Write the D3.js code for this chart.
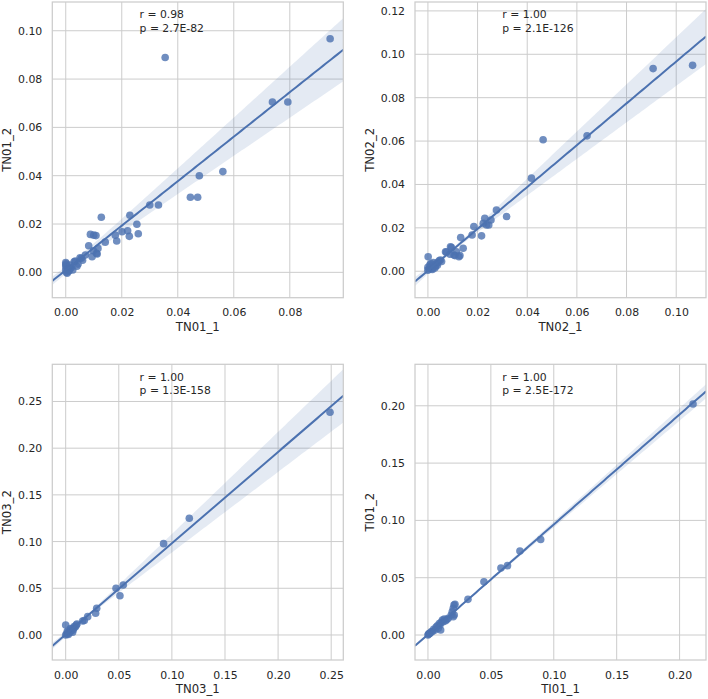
<!DOCTYPE html>
<html>
<head>
<meta charset="utf-8">
<script src="https://cdn.jsdelivr.net/npm/d3@7"></script>
<style>
  body { margin: 0; background: #fff; }
  text { font-family: "DejaVu Sans", sans-serif; fill: #262626; }
</style>
</head>
<body>
<div id="chart"></div>
<script>
// point values, [run 1, run 2]
const tn01 = [
  [0.0000, 0.0040], [0.0001, 0.0023], [0.0000, 0.0010], [0.0005, -0.0004], [0.0016, 0.0017],
  [0.0025, 0.0010], [0.0000, 0.0030], [0.0002, 0.0035], [0.0010, 0.0005], [0.0008, 0.0015],
  [0.0012, 0.0008], [0.0003, 0.0000], [0.0020, 0.0020], [0.0015, 0.0030], [0.0030, 0.0044],
  [0.0034, 0.0047], [0.0044, 0.0034], [0.0040, 0.0025], [0.0056, 0.0058], [0.0051, 0.0060],
  [0.0070, 0.0072], [0.0060, 0.0050], [0.0082, 0.0110], [0.0094, 0.0065], [0.0099, 0.0089],
  [0.0112, 0.0076], [0.0115, 0.0099], [0.0110, 0.0079], [0.0088, 0.0157], [0.0100, 0.0154],
  [0.0108, 0.0152], [0.0127, 0.0228], [0.0141, 0.0125], [0.0177, 0.0154], [0.0182, 0.0130],
  [0.0201, 0.0168], [0.0221, 0.0172], [0.0227, 0.0149], [0.0229, 0.0236], [0.0254, 0.0199],
  [0.0259, 0.0160], [0.0300, 0.0279], [0.0331, 0.0279], [0.0355, 0.0889], [0.0445, 0.0311],
  [0.0471, 0.0311], [0.0477, 0.0400], [0.0561, 0.0417], [0.0738, 0.0705], [0.0793, 0.0705],
  [0.0944, 0.0967]
];
const tn02 = [
  [0.0001, 0.0067], [0.0000, 0.0005], [0.0005, 0.0010], [0.0010, 0.0020], [0.0015, 0.0012],
  [0.0020, 0.0025], [0.0025, 0.0030], [0.0030, 0.0022], [0.0035, 0.0035], [0.0040, 0.0040],
  [0.0045, 0.0048], [0.0050, 0.0052], [0.0055, 0.0045], [0.0008, 0.0030], [0.0012, 0.0035],
  [0.0018, 0.0008], [0.0028, 0.0015], [0.0038, 0.0028], [0.0000, 0.0018], [0.0022, 0.0040],
  [0.0071, 0.0090], [0.0075, 0.0088], [0.0089, 0.0078], [0.0091, 0.0113], [0.0095, 0.0109],
  [0.0105, 0.0075], [0.0109, 0.0072], [0.0115, 0.0090], [0.0125, 0.0067], [0.0129, 0.0072],
  [0.0132, 0.0155], [0.0142, 0.0106], [0.0178, 0.0167], [0.0185, 0.0206], [0.0216, 0.0163],
  [0.0223, 0.0221], [0.0229, 0.0244], [0.0236, 0.0213], [0.0245, 0.0213], [0.0254, 0.0236],
  [0.0276, 0.0282], [0.0317, 0.0252], [0.0417, 0.0429], [0.0464, 0.0606], [0.0641, 0.0624],
  [0.0907, 0.0934], [0.1066, 0.0949]
];
const tn03 = [
  [0.0000, 0.0107], [0.0000, 0.0000], [0.0010, 0.0010], [0.0020, 0.0025], [0.0030, 0.0020],
  [0.0040, 0.0045], [0.0050, 0.0040], [0.0060, 0.0065], [0.0070, 0.0055], [0.0075, 0.0072],
  [0.0080, 0.0090], [0.0090, 0.0085], [0.0100, 0.0105], [0.0106, 0.0118], [0.0065, 0.0030],
  [0.0045, 0.0070], [0.0025, 0.0005], [0.0015, 0.0040], [0.0160, 0.0150], [0.0175, 0.0155],
  [0.0207, 0.0196], [0.0282, 0.0232], [0.0292, 0.0286], [0.0474, 0.0500], [0.0511, 0.0420],
  [0.0542, 0.0535], [0.0922, 0.0978], [0.1164, 0.1249], [0.2489, 0.2384]
];
const ti01 = [
  [0.0000, 0.0000], [0.0005, 0.0008], [0.0010, 0.0012], [0.0016, 0.0015], [0.0025, 0.0028],
  [0.0035, 0.0030], [0.0045, 0.0050], [0.0056, 0.0044], [0.0065, 0.0070], [0.0075, 0.0080],
  [0.0082, 0.0058], [0.0090, 0.0100], [0.0095, 0.0087], [0.0101, 0.0044], [0.0105, 0.0110],
  [0.0115, 0.0130], [0.0122, 0.0116], [0.0130, 0.0140], [0.0140, 0.0125], [0.0150, 0.0135],
  [0.0161, 0.0146], [0.0185, 0.0175], [0.0193, 0.0203], [0.0201, 0.0233], [0.0201, 0.0160],
  [0.0209, 0.0175], [0.0207, 0.0262], [0.0215, 0.0268], [0.0318, 0.0311], [0.0445, 0.0465],
  [0.0580, 0.0585], [0.0632, 0.0605], [0.0731, 0.0733], [0.0896, 0.0833], [0.2107, 0.2016]
];

// axis names and the r / p annotations
const names = ["TN01", "TN02", "TN03", "TI01"];
const rLabels = ["r = 0.98", "r = 1.00", "r = 1.00", "r = 1.00"];
const pLabels = ["p = 2.7E-82", "p = 2.1E-126", "p = 1.3E-158", "p = 2.5E-172"];

// tick values and axis limits
const xTicks = [
  [0, 0.02, 0.04, 0.06, 0.08],
  [0, 0.02, 0.04, 0.06, 0.08, 0.10],
  [0, 0.05, 0.10, 0.15, 0.20, 0.25],
  [0, 0.05, 0.10, 0.15, 0.20]
];
const yTicks = [
  [0, 0.02, 0.04, 0.06, 0.08, 0.10],
  [0, 0.02, 0.04, 0.06, 0.08, 0.10, 0.12],
  [0, 0.05, 0.10, 0.15, 0.20, 0.25],
  [0, 0.05, 0.10, 0.15, 0.20]
];
const xLims = [[-0.0048, 0.0991], [-0.0052, 0.1120], [-0.0126, 0.2614], [-0.0103, 0.2210]];
const yLims = [[-0.0105, 0.1119], [-0.0122, 0.1241], [-0.0268, 0.2898], [-0.0218, 0.2362]];
const datasets = [tn01, tn02, tn03, ti01];

// layout
const width = 708, height = 699;
const cellW = 291, cellH = 295.7;
const lefts = [52.3, 415, 52.3, 415];
const tops = [2, 2, 364.3, 364.3];
const blue = "#4c72b0";
const grey = "#cccccc";
const fmt = d3.format(".2f");

const svg = d3.select("#chart").append("svg")
  .attr("width", width)
  .attr("height", height);

// least squares fit plus a robust (HC3) band, close to seaborn's bootstrap band
function fit(pts) {
  const n = pts.length;
  const xbar = d3.mean(pts, d => d[0]);
  const ybar = d3.mean(pts, d => d[1]);
  let sxx = 0, sxy = 0;
  pts.forEach(d => { sxx += (d[0] - xbar) ** 2; sxy += (d[0] - xbar) * (d[1] - ybar); });
  const b = sxy / sxx;
  let m00 = 0, m01 = 0, m11 = 0;
  pts.forEach(d => {
    const xc = d[0] - xbar;
    const e = d[1] - (ybar + b * xc);
    const h = 1 / n + xc * xc / sxx;
    const w = e * e / ((1 - h) ** 2);
    m00 += w; m01 += w * xc; m11 += w * xc * xc;
  });
  return {
    yhat: x => ybar + b * (x - xbar),
    se: x => {
      const g = x - xbar;
      return Math.sqrt(m00 / (n * n) + 2 * g * m01 / (n * sxx) + g * g * m11 / (sxx * sxx));
    }
  };
}

datasets.forEach((pts, i) => {
  const left = lefts[i], top = tops[i];
  const x = d3.scaleLinear().domain(xLims[i]).range([left, left + cellW]);
  const y = d3.scaleLinear().domain(yLims[i]).range([top + cellH, top]);

  const g = svg.append("g");

  // grid
  g.selectAll(".gx").data(xTicks[i]).enter().append("line")
    .attr("x1", d => x(d)).attr("x2", d => x(d))
    .attr("y1", top).attr("y2", top + cellH)
    .attr("stroke", grey).attr("stroke-width", 1);
  g.selectAll(".gy").data(yTicks[i]).enter().append("line")
    .attr("x1", left).attr("x2", left + cellW)
    .attr("y1", d => y(d)).attr("y2", d => y(d))
    .attr("stroke", grey).attr("stroke-width", 1);

  // tick labels
  const xAxis = g.append("g")
    .attr("transform", `translate(0,${top + cellH})`)
    .call(d3.axisBottom(x).tickValues(xTicks[i]).tickFormat(fmt).tickSize(0).tickPadding(11));
  const yAxis = g.append("g")
    .attr("transform", `translate(${left},0)`)
    .call(d3.axisLeft(y).tickValues(yTicks[i]).tickFormat(fmt).tickSize(0).tickPadding(10));
  [xAxis, yAxis].forEach(a => {
    a.select(".domain").remove();
    a.selectAll("text").attr("font-size", "10.9px").style("font-family", "DejaVu Sans").attr("fill", "#262626");
  });

  // clip to the axes box
  const clipId = "clip" + i;
  svg.append("clipPath").attr("id", clipId)
    .append("rect").attr("x", left).attr("y", top).attr("width", cellW).attr("height", cellH);
  const plot = g.append("g").attr("clip-path", `url(#${clipId})`);

  // scatter
  plot.selectAll("circle").data(pts).enter().append("circle")
    .attr("cx", d => x(d[0]))
    .attr("cy", d => y(d[1]))
    .attr("r", 3.8)
    .attr("fill", blue)
    .attr("fill-opacity", 0.8);

  // regression line and band over the full x range
  const f = fit(pts);
  const grid = d3.range(101).map(k => xLims[i][0] + (xLims[i][1] - xLims[i][0]) * k / 100);
  const band = d3.area()
    .x(d => x(d))
    .y0(d => y(f.yhat(d) - 1.96 * f.se(d)))
    .y1(d => y(f.yhat(d) + 1.96 * f.se(d)));
  plot.append("path").attr("d", band(grid))
    .attr("fill", blue).attr("fill-opacity", 0.15);
  plot.append("path").attr("d", d3.line().x(d => x(d)).y(d => y(f.yhat(d)))(grid))
    .attr("fill", "none").attr("stroke", blue).attr("stroke-width", 2);

  // spines
  g.append("rect")
    .attr("x", left).attr("y", top).attr("width", cellW).attr("height", cellH)
    .attr("fill", "none").attr("stroke", grey).attr("stroke-width", 1.25);

  // axis labels
  g.append("text")
    .attr("x", left + cellW / 2).attr("y", top + cellH + 33)
    .attr("text-anchor", "middle").attr("font-size", "11.7px")
    .text(names[i] + "_1");
  g.append("text")
    .attr("transform", `translate(${left - 41.2},${top + cellH / 2}) rotate(-90)`)
    .attr("text-anchor", "middle").attr("font-size", "11.7px")
    .text(names[i] + "_2");

  // r and p annotation
  g.append("text").attr("x", left + 0.3 * cellW).attr("y", top + 16.3)
    .attr("font-size", "10.8px").text(rLabels[i]);
  g.append("text").attr("x", left + 0.3 * cellW).attr("y", top + 29.7)
    .attr("font-size", "10.8px").text(pLabels[i]);
});
</script>
</body>
</html>
